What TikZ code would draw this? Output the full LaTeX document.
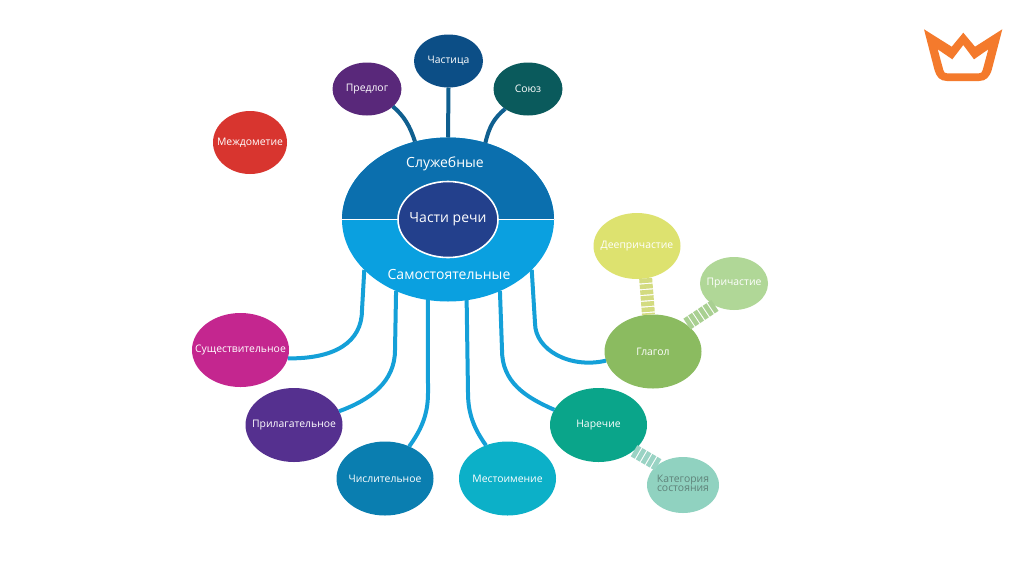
\documentclass[tikz,border=0pt]{standalone}
\usepackage{fontspec}
\setmainfont{Open Sans}
\usetikzlibrary{shapes.geometric}
\definecolor{cMezh}{HTML}{D8352F}
\definecolor{cPred}{HTML}{59287A}
\definecolor{cChas}{HTML}{0C4E86}
\definecolor{cSoyuz}{HTML}{0A5A5C}
\definecolor{cTop}{HTML}{0B6FAE}
\definecolor{cBot}{HTML}{0AA0E0}
\definecolor{cCore}{HTML}{23408C}
\definecolor{cSush}{HTML}{C4268F}
\definecolor{cPril}{HTML}{55308F}
\definecolor{cChis}{HTML}{0A7EB0}
\definecolor{cMest}{HTML}{0CB0C8}
\definecolor{cNar}{HTML}{0AA58A}
\definecolor{cGlag}{HTML}{8BBB60}
\definecolor{cDeep}{HTML}{DDE26F}
\definecolor{cPrich}{HTML}{B0D797}
\definecolor{cKat}{HTML}{90D2C0}
\definecolor{cLink}{HTML}{14A0D8}
\definecolor{cDark}{HTML}{0F5F8F}
\definecolor{cCrown}{HTML}{F47A2C}
\definecolor{cKatText}{HTML}{5F8279}
\definecolor{cBlockA}{HTML}{D3DB80}
\definecolor{cBlockB}{HTML}{A9D092}
\definecolor{cBlockC}{HTML}{9AD3C4}
\newcommand{\btxt}[1]{\makebox[0pt][c]{\raisebox{-1.6pt}{#1}}}
\tikzset{
  x=1pt,y=-1pt,
  bubble/.style={ellipse,inner sep=0pt,outer sep=0pt,text=white,
    font=\fontsize{10.4}{11}\selectfont},
  big/.style={bubble,minimum width=97pt,minimum height=74pt},
  small/.style={bubble,minimum width=69pt,minimum height=53pt},
  title/.style={inner sep=0pt,text=white,font=\fontsize{14}{16}\selectfont},
  darklink/.style={draw=cDark,line width=4pt},
  bluelink/.style={draw=cLink,line width=4pt},
  blocks/.style={line width=13pt,dash pattern=on 4.6pt off 1.2pt},
}
\begin{document}
\begin{tikzpicture}
\useasboundingbox (0,0) rectangle (1024,574);
\fill[white] (0,0) rectangle (1024,574);
% main ellipse
\node[ellipse,inner sep=0pt,outer sep=0pt,minimum width=212pt,minimum height=164pt,fill=cBot] (main) at (448,219.5) {};
\fill[cTop] (main.west) arc[start angle=180,end angle=0,x radius=106pt,y radius=82pt] -- cycle;
\node[ellipse,inner sep=0pt,outer sep=0pt,minimum width=100pt,minimum height=76pt,fill=cCore,draw=white,line width=1.6pt,text=white,font=\fontsize{14}{16}\selectfont] (core) at (448,219.5) {\btxt{Части речи}};
\draw[white,line width=1.6pt] (main.west) -- (core.west) (core.east) -- (main.east);
\node[title] (sl) at (445,164) {Служебные};
\node[title] (sam) at (449,274) {Самостоятельные};
% top bubbles
\node[small,fill=cPred] (pred) at (367,89) {\btxt{Предлог}};
\node[small,fill=cChas] (chas) at (448.5,61) {\btxt{Частица}};
\node[small,fill=cSoyuz] (soyuz) at (528,89) {\btxt{Союз}};
\node[bubble,minimum width=74pt,minimum height=63pt,fill=cMezh] (mezh) at (250,142.5) {\btxt{Междометие}};
% lower bubbles
\node[big,fill=cSush] (sush) at (240.5,350) {\btxt{Существительное}};
\node[big,fill=cPril] (pril) at (294,425) {\btxt{Прилагательное}};
\node[big,fill=cChis] (chis) at (385,478.5) {\btxt{Числительное}};
\node[big,fill=cMest] (mest) at (507.5,478.5) {\btxt{Местоимение}};
\node[big,fill=cNar] (nar) at (598.5,425) {\btxt{Наречие}};
\node[big,fill=cGlag] (glag) at (653,351.5) {\btxt{Глагол}};
\node[bubble,minimum width=87pt,minimum height=66pt,fill=cDeep] (deep) at (637,246) {\btxt{Деепричастие}};
\node[small,minimum width=68pt,fill=cPrich] (prich) at (734,283.5) {\btxt{Причастие}};
\node[bubble,minimum width=72pt,minimum height=56pt,fill=cKat,text=cKatText] (kat) at (683,485) {\btxt{\begin{tabular}{@{}c@{}}Категория\\[-2.5pt]состояния\end{tabular}}};
% dark connectors
\draw[darklink] (main.113.5) .. controls (410,126) and (404,116) .. (pred.326);
\draw[darklink] (main.90) -- (chas.270);
\draw[darklink] (main.64.4) .. controls (489,127) and (494,118) .. (soyuz.221.3);
% blue connectors
\draw[bluelink] (main.211.2) -- (362,310) .. controls (362,342) and (335,359) .. (sush.-10.3);
\draw[bluelink] (main.234.4) -- (395,350) .. controls (395,382) and (370,400) .. (pril.17.4);
\draw[bluelink] (main.256.6) -- (428,393) .. controls (428,415) and (421,430) .. (chis.53);
\draw[bluelink] (main.283.4) -- (468,393) .. controls (468,415) and (475,430) .. (mest.123.5);
\draw[bluelink] (main.306.1) -- (502,350) .. controls (502,382) and (525,397) .. (nar.161);
\draw[bluelink] (main.329.6) -- (535,323) .. controls (535,350) and (570,369) .. (glag.191.9);
% segmented connectors
\draw[blocks,draw=cBlockA] (deep.285) -- (glag.97.4);
\draw[blocks,draw=cBlockB] (prich.229.6) -- (glag.39);
\draw[blocks,draw=cBlockC] (kat.141.8) -- (nar.-36.5);
% crown
\fill[cCrown,even odd rule]
  (924,29.3) -- (951.7,46.7) -- (963.3,32.7) -- (975,46.7) -- (1002.3,29.3) -- (991.7,70)
  .. controls (989.5,77) and (986,81) .. (979,81) -- (947,81)
  .. controls (940,81) and (936.5,77) .. (934.5,70) -- cycle
  (937.7,49.3) -- (952.3,59.3) -- (963.3,45) -- (974,59.3) -- (988.3,49.3) -- (982.7,70)
  .. controls (982,72.5) and (981,73.3) .. (979,73.3) -- (947,73.3)
  .. controls (945,73.3) and (944,72.5) .. (943.3,70) -- cycle;
\end{tikzpicture}
\end{document}
